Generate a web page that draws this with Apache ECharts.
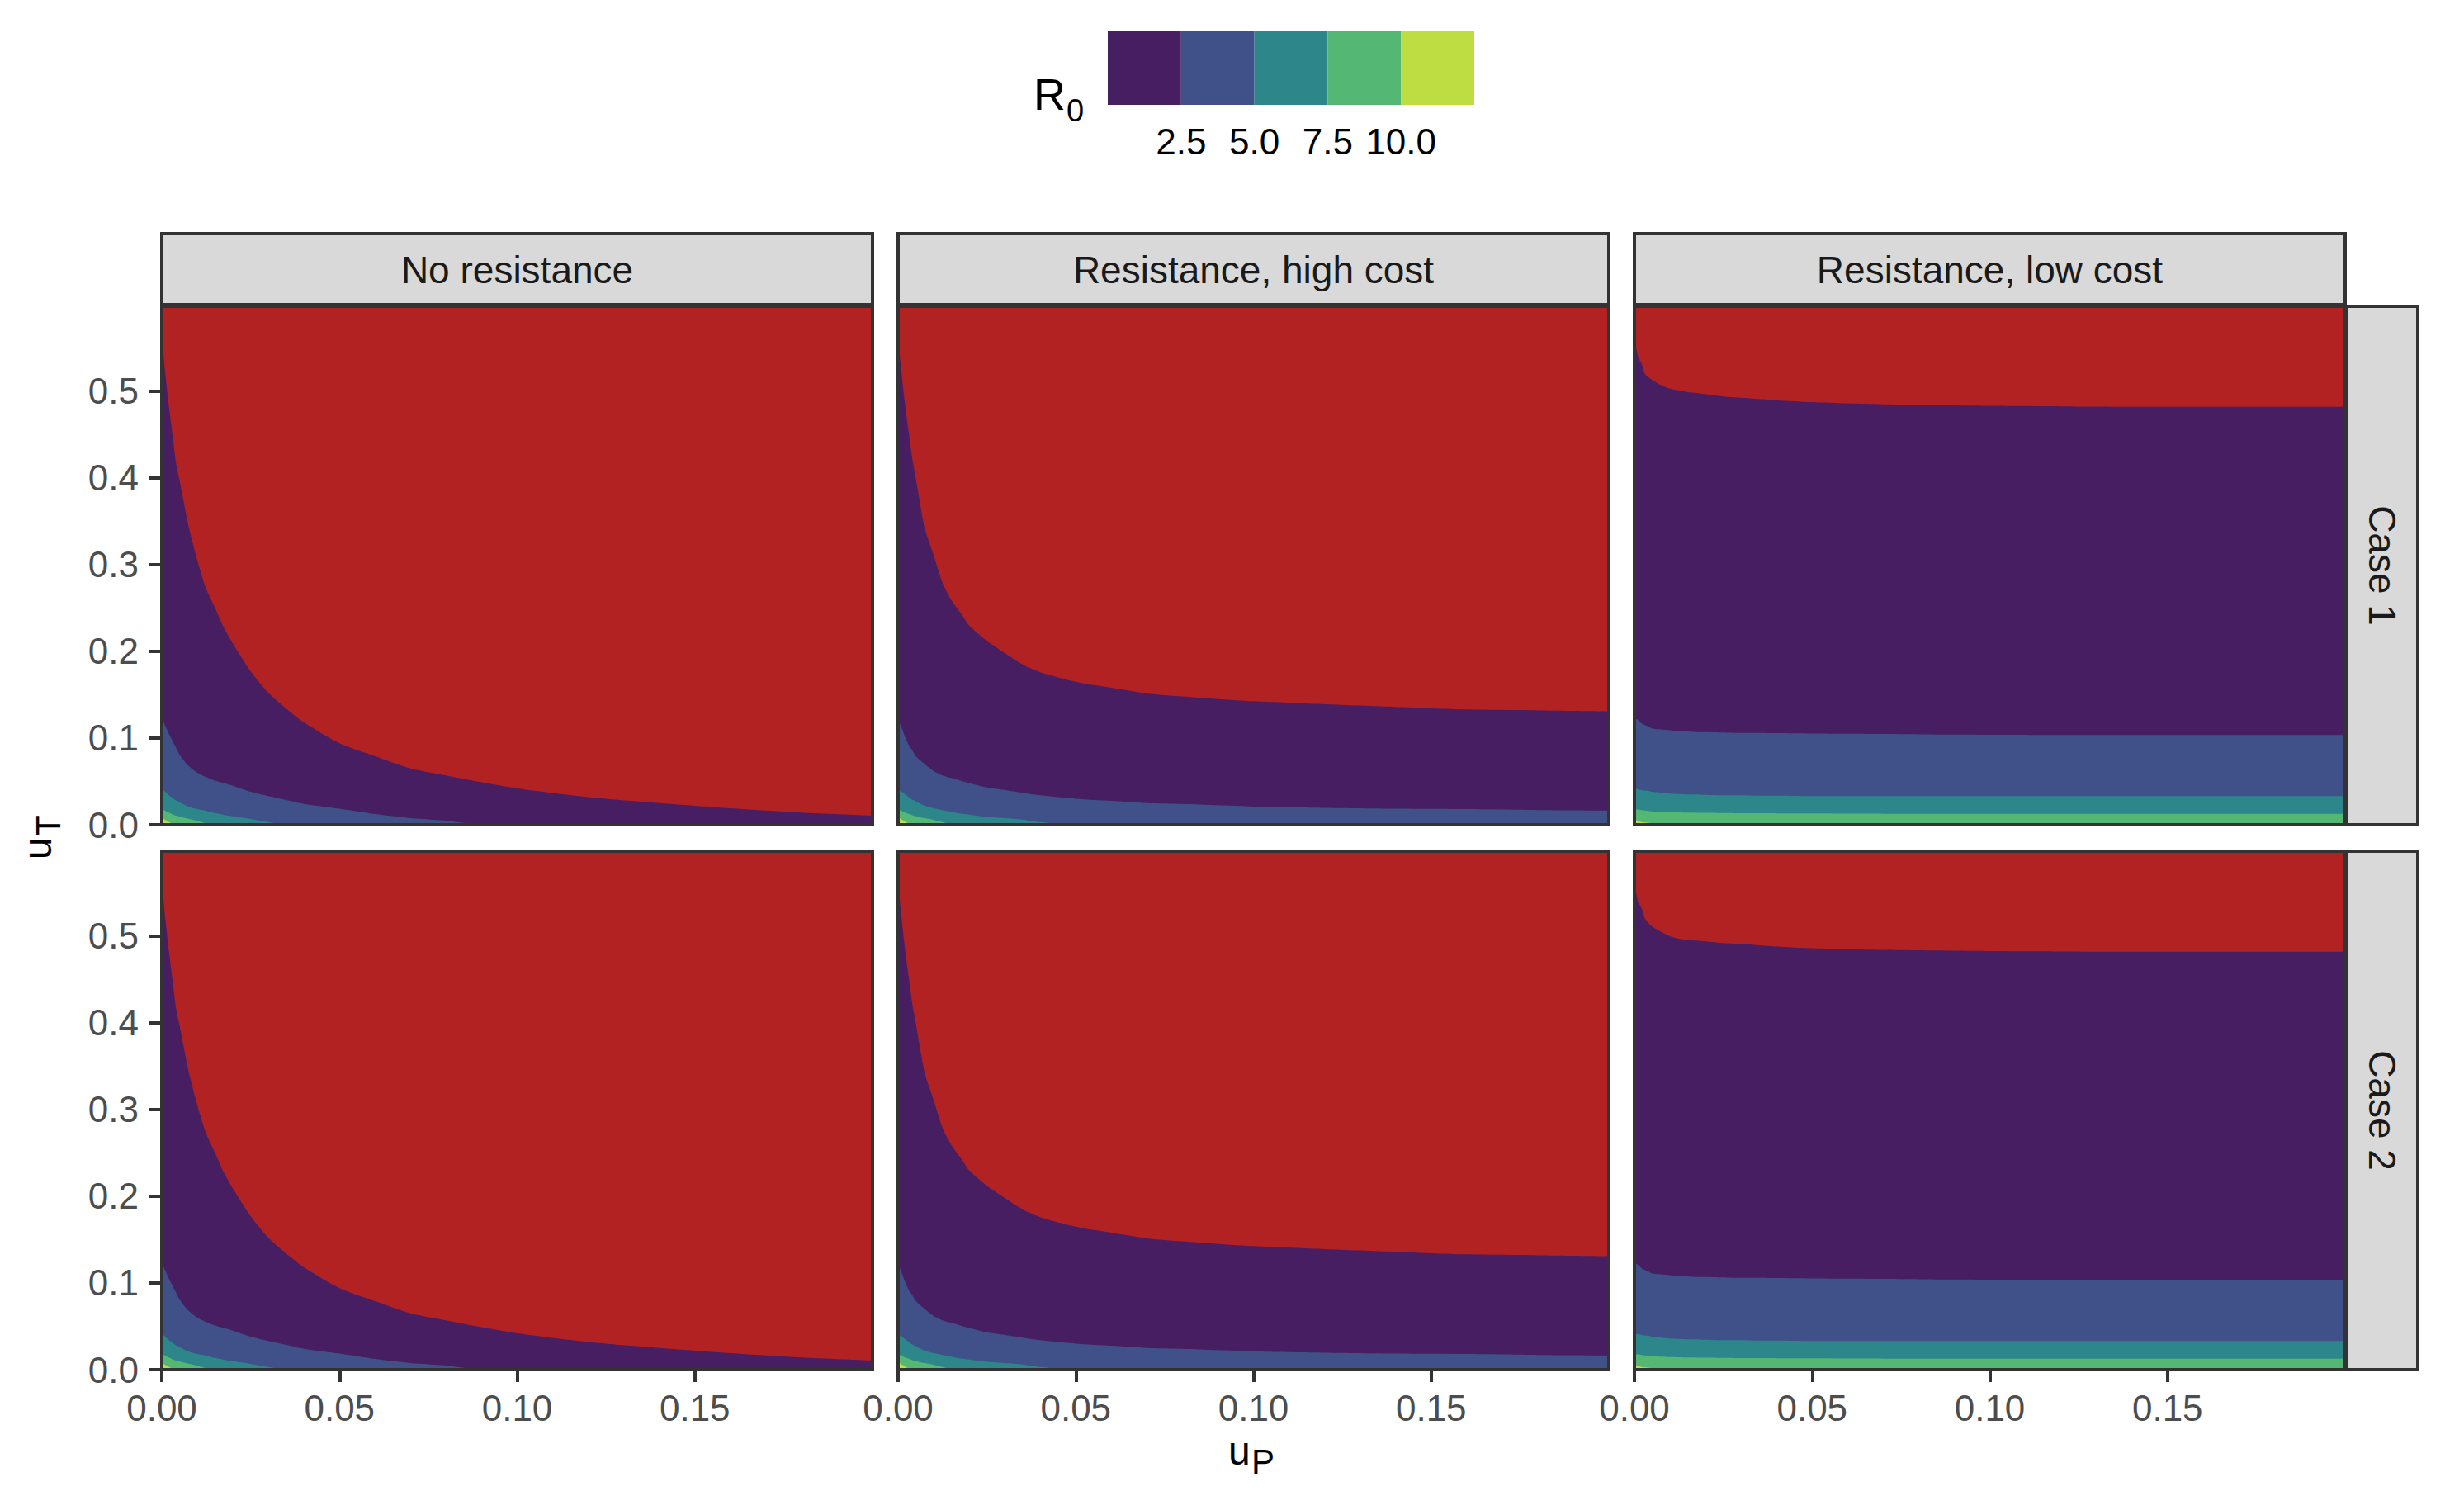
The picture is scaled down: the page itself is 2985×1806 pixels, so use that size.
<!DOCTYPE html>
<html><head><meta charset="utf-8">
<script src="https://cdn.jsdelivr.net/npm/echarts@6/dist/echarts.min.js"></script>
<style>html,body{margin:0;padding:0;background:#fff}#c{width:2985px;height:1806px}</style>
</head><body><div id="c"></div>
<script>
// ---------- data ----------
const facetCols = ['No resistance', 'Resistance, high cost', 'Resistance, low cost'];
const facetRows = ['Case 1', 'Case 2'];
const r0Breaks = [2.5, 5.0, 7.5, 10.0];
const xTicks = [0, 0.05, 0.10, 0.15];
const yTicks = [0, 0.1, 0.2, 0.3, 0.4, 0.5];
// u_P sample positions where the band boundaries were read
const uP = [0, 0.001, 0.002, 0.003, 0.004, 0.005, 0.0075, 0.01, 0.0125, 0.015, 0.0175, 0.02, 0.025, 0.03, 0.035, 0.04, 0.05, 0.06, 0.07, 0.08, 0.09, 0.10, 0.12, 0.14, 0.16, 0.18, 0.20];

// u_T value of the upper edge of each R0 band (R0 >= 1, 2.5, 5, 7.5, 10)
// Case 1, No resistance
const c1NoRes_R1   = [0.563,0.520,0.483,0.450,0.417,0.397,0.345,0.305,0.272,0.250,0.227,0.209,0.177,0.152,0.134,0.118,0.094,0.079,0.065,0.057,0.049,0.042,0.032,0.025,0.019,0.014,0.0105];
const c1NoRes_R2_5 = [0.123,0.114,0.105,0.097,0.089,0.081,0.068,0.060,0.055,0.051,0.048,0.045,0.038,0.033,0.0285,0.024,0.0185,0.0123,0.0077,0.0047,0,0,0,0,0,0,0];
const c1NoRes_R5   = [0.042,0.038,0.034,0.031,0.028,0.026,0.021,0.018,0.016,0.0135,0.0115,0.0097,0.0067,0.003,0,0,0,0,0,0,0,0,0,0,0,0,0];
const c1NoRes_R7_5 = [0.018,0.016,0.014,0.012,0.0105,0.0095,0.0068,0.0045,0.0015,0,0,0,0,0,0,0,0,0,0,0,0,0,0,0,0,0,0];
const c1NoRes_R10  = [0.0078,0.0055,0.003,0.001,0,0,0,0,0,0,0,0,0,0,0,0,0,0,0,0,0,0,0,0,0,0,0];
// Case 1, Resistance high cost
const c1High_R1   = [0.563,0.520,0.483,0.452,0.422,0.399,0.342,0.311,0.279,0.259,0.245,0.230,0.212,0.198,0.185,0.176,0.165,0.158,0.1515,0.148,0.145,0.1425,0.139,0.136,0.133,0.132,0.131];
const c1High_R2_5 = [0.122,0.112,0.101,0.092,0.086,0.079,0.070,0.062,0.057,0.054,0.051,0.048,0.043,0.040,0.037,0.034,0.030,0.0275,0.025,0.024,0.0225,0.021,0.0195,0.0185,0.018,0.017,0.0165];
const c1High_R5   = [0.042,0.038,0.035,0.032,0.029,0.027,0.022,0.019,0.017,0.015,0.0128,0.0117,0.009,0.0076,0.006,0.003,0,0,0,0,0,0,0,0,0,0,0];
const c1High_R7_5 = [0.018,0.016,0.014,0.0125,0.011,0.0098,0.0075,0.0055,0.003,0.0005,0,0,0,0,0,0,0,0,0,0,0,0,0,0,0,0,0];
const c1High_R10  = [0.0086,0.006,0.0035,0.001,0,0,0,0,0,0,0,0,0,0,0,0,0,0,0,0,0,0,0,0,0,0,0];
// Case 1, Resistance low cost
const c1Low_R1   = [0.563,0.540,0.532,0.520,0.516,0.513,0.507,0.503,0.501,0.499,0.498,0.4965,0.494,0.4925,0.491,0.4895,0.4875,0.486,0.485,0.4843,0.4837,0.4832,0.4826,0.482,0.482,0.482,0.482];
const c1Low_R2_5 = [0.123,0.121,0.117,0.115,0.113,0.111,0.110,0.109,0.108,0.1075,0.107,0.107,0.1065,0.106,0.106,0.1057,0.1053,0.105,0.1047,0.1043,0.104,0.1038,0.1036,0.1035,0.1035,0.1035,0.1035];
const c1Low_R5   = [0.042,0.041,0.040,0.0395,0.039,0.038,0.037,0.036,0.0355,0.035,0.035,0.0345,0.034,0.034,0.0335,0.0335,0.033,0.033,0.033,0.033,0.033,0.033,0.033,0.033,0.033,0.033,0.033];
const c1Low_R7_5 = [0.018,0.0175,0.017,0.0165,0.016,0.0155,0.015,0.0145,0.0143,0.014,0.0139,0.0138,0.0136,0.0134,0.0133,0.0132,0.013,0.0128,0.0127,0.0126,0.0125,0.0125,0.0125,0.0125,0.0125,0.0125,0.0125];
const c1Low_R10  = [0.0065,0.004,0.003,0.0025,0.0022,0.002,0.002,0.0018,0.0017,0.0016,0.0015,0.0015,0.0005,0,0,0,0,0,0,0,0,0,0,0,0,0,0];
// Case 2, No resistance
const c2NoRes_R1   = [0.563,0.520,0.483,0.450,0.417,0.397,0.345,0.305,0.272,0.250,0.227,0.209,0.177,0.152,0.134,0.118,0.094,0.079,0.065,0.057,0.049,0.042,0.032,0.025,0.019,0.014,0.0105];
const c2NoRes_R2_5 = [0.123,0.114,0.105,0.097,0.089,0.081,0.068,0.060,0.055,0.051,0.048,0.045,0.038,0.033,0.0285,0.024,0.0185,0.0123,0.0077,0.0047,0,0,0,0,0,0,0];
const c2NoRes_R5   = [0.042,0.038,0.034,0.031,0.028,0.026,0.021,0.018,0.016,0.0135,0.0115,0.0097,0.0067,0.003,0,0,0,0,0,0,0,0,0,0,0,0,0];
const c2NoRes_R7_5 = [0.018,0.016,0.014,0.012,0.0105,0.0095,0.0068,0.0045,0.0015,0,0,0,0,0,0,0,0,0,0,0,0,0,0,0,0,0,0];
const c2NoRes_R10  = [0.0078,0.0055,0.003,0.001,0,0,0,0,0,0,0,0,0,0,0,0,0,0,0,0,0,0,0,0,0,0,0];
// Case 2, Resistance high cost
const c2High_R1   = [0.563,0.520,0.483,0.452,0.422,0.399,0.342,0.311,0.279,0.259,0.245,0.230,0.212,0.198,0.185,0.176,0.165,0.158,0.1515,0.148,0.145,0.1425,0.139,0.136,0.133,0.132,0.131];
const c2High_R2_5 = [0.122,0.112,0.101,0.092,0.086,0.079,0.070,0.062,0.057,0.054,0.051,0.048,0.043,0.040,0.037,0.034,0.030,0.0275,0.025,0.024,0.0225,0.021,0.0195,0.0185,0.018,0.017,0.0165];
const c2High_R5   = [0.042,0.038,0.035,0.032,0.029,0.027,0.022,0.019,0.017,0.015,0.0128,0.0117,0.009,0.0076,0.006,0.003,0,0,0,0,0,0,0,0,0,0,0];
const c2High_R7_5 = [0.018,0.016,0.014,0.0125,0.011,0.0098,0.0075,0.0055,0.003,0.0005,0,0,0,0,0,0,0,0,0,0,0,0,0,0,0,0,0];
const c2High_R10  = [0.0086,0.006,0.0035,0.001,0,0,0,0,0,0,0,0,0,0,0,0,0,0,0,0,0,0,0,0,0,0,0];
// Case 2, Resistance low cost
const c2Low_R1   = [0.563,0.540,0.532,0.520,0.515,0.511,0.505,0.500,0.497,0.4955,0.495,0.494,0.492,0.491,0.4895,0.488,0.486,0.485,0.4843,0.4837,0.4832,0.4828,0.4824,0.482,0.482,0.482,0.482];
const c2Low_R2_5 = [0.123,0.121,0.117,0.115,0.113,0.111,0.110,0.109,0.108,0.1075,0.107,0.107,0.1065,0.106,0.106,0.1057,0.1053,0.105,0.1047,0.1043,0.104,0.1038,0.1036,0.1035,0.1035,0.1035,0.1035];
const c2Low_R5   = [0.042,0.041,0.040,0.0395,0.039,0.038,0.037,0.036,0.0355,0.035,0.035,0.0345,0.034,0.034,0.0335,0.0335,0.033,0.033,0.033,0.033,0.033,0.033,0.033,0.033,0.033,0.033,0.033];
const c2Low_R7_5 = [0.018,0.0175,0.017,0.0165,0.016,0.0155,0.015,0.0145,0.0143,0.014,0.0139,0.0138,0.0136,0.0134,0.0133,0.0132,0.013,0.0128,0.0127,0.0126,0.0125,0.0125,0.0125,0.0125,0.0125,0.0125,0.0125];
const c2Low_R10  = [0.0065,0.004,0.003,0.0025,0.0022,0.002,0.002,0.0018,0.0017,0.0016,0.0015,0.0015,0.0005,0,0,0,0,0,0,0,0,0,0,0,0,0,0];

// ---------- styling / layout ----------
const FONT = '"Liberation Sans", Arial, Helvetica, sans-serif';
const belowOneColor = '#B22222';
const bandColors = ['#471E61', '#3F5188', '#2D868A', '#54B874', '#BEDD42'];
const colLeft = [196, 1088, 1980], rowTop = [371, 1031];
const PW = 861, PH = 628;
const xMax = 0.2, yMax = 0.598;
const border = '#333333';

const panels = [
  [[c1NoRes_R1,c1NoRes_R2_5,c1NoRes_R5,c1NoRes_R7_5,c1NoRes_R10],
   [c1High_R1,c1High_R2_5,c1High_R5,c1High_R7_5,c1High_R10],
   [c1Low_R1,c1Low_R2_5,c1Low_R5,c1Low_R7_5,c1Low_R10]],
  [[c2NoRes_R1,c2NoRes_R2_5,c2NoRes_R5,c2NoRes_R7_5,c2NoRes_R10],
   [c2High_R1,c2High_R2_5,c2High_R5,c2High_R7_5,c2High_R10],
   [c2Low_R1,c2Low_R2_5,c2Low_R5,c2Low_R7_5,c2Low_R10]]
];

const grid = [], xAxis = [], yAxis = [], series = [], graphic = [];
for (let r = 0; r < 2; r++) {
  for (let c = 0; c < 3; c++) {
    const gi = grid.length;
    grid.push({left: colLeft[c], top: rowTop[r], width: PW, height: PH, show: true,
      backgroundColor: belowOneColor, borderWidth: 0, containLabel: false});
    xAxis.push({gridIndex: gi, type: 'value', min: 0, max: xMax,
      axisLine: {show: false}, splitLine: {show: false},
      axisTick: {show: r === 1, length: 15, customValues: xTicks, lineStyle: {color: border, width: 4}},
      axisLabel: {show: r === 1, customValues: xTicks, formatter: v => v.toFixed(2), margin: 24,
        fontSize: 44, fontFamily: FONT, color: '#4D4D4D'}});
    yAxis.push({gridIndex: gi, type: 'value', min: 0, max: yMax,
      axisLine: {show: false}, splitLine: {show: false},
      axisTick: {show: c === 0, length: 15, customValues: yTicks, lineStyle: {color: border, width: 4}},
      axisLabel: {show: c === 0, customValues: yTicks, formatter: v => v.toFixed(1), margin: 28,
        fontSize: 44, fontFamily: FONT, color: '#4D4D4D'}});
    panels[r][c].forEach((edge, k) => {
      series.push({type: 'line', xAxisIndex: gi, yAxisIndex: gi, silent: true,
        data: uP.map((x, i) => [x, edge[i]]), symbol: 'none', showSymbol: false,
        smooth: 0.25,
        lineStyle: {width: 0, opacity: 0}, areaStyle: {color: bandColors[k], opacity: 1},
        z: 2 + k, clip: true});
    });
    graphic.push({type: 'rect', z: 100, silent: true,
      shape: {x: colLeft[c], y: rowTop[r], width: PW, height: PH},
      style: {fill: 'none', stroke: border, lineWidth: 4}});
  }
}
// top strips
facetCols.forEach((t, c) => {
  graphic.push({type: 'rect', z: 100, silent: true,
    shape: {x: colLeft[c], y: 283, width: PW, height: 86},
    style: {fill: '#D9D9D9', stroke: border, lineWidth: 4}});
  graphic.push({type: 'text', z: 101, silent: true, x: colLeft[c] + PW / 2, y: 327,
    style: {text: t, fill: '#1A1A1A', font: '46px ' + FONT, align: 'center', verticalAlign: 'middle'}});
});
// right strips
facetRows.forEach((t, r) => {
  graphic.push({type: 'rect', z: 100, silent: true,
    shape: {x: colLeft[2] + PW + 2, y: rowTop[r], width: 86, height: PH},
    style: {fill: '#D9D9D9', stroke: border, lineWidth: 4}});
  graphic.push({type: 'text', z: 101, silent: true, x: colLeft[2] + PW + 45, y: rowTop[r] + PH / 2,
    rotation: -Math.PI / 2,
    style: {text: t, fill: '#1A1A1A', font: '46px ' + FONT, align: 'center', verticalAlign: 'middle'}});
});
// axis titles (main letter + lowered subscript)
function mathText(x, y, txt, size, rot) {
  const el = {type: 'text', z: 101, silent: true, x: x, y: y,
    style: {text: txt, fill: '#000', font: size + 'px ' + FONT, align: 'left', verticalAlign: 'middle'}};
  if (rot) el.rotation = rot;
  return el;
}
graphic.push(mathText(1488, 1757, 'u', 48));
graphic.push(mathText(1516, 1770, 'P', 42));
graphic.push(mathText(45, 1041, 'u', 48, Math.PI / 2));
graphic.push(mathText(58, 1013, 'T', 42, Math.PI / 2));
// legend title
graphic.push(mathText(1252, 114, 'R', 54));
graphic.push(mathText(1292, 134, '0', 38));

// legend colour steps (drawn through its own axis)
const legStep = r0Breaks[1] - r0Breaks[0];
const legEdges = [r0Breaks[0] - legStep].concat(r0Breaks, [r0Breaks[r0Breaks.length - 1] + legStep]);
const lg = grid.length;
grid.push({left: 1342, top: 37, width: 444, height: 90, show: false, containLabel: false});
xAxis.push({gridIndex: lg, type: 'value', min: legEdges[0], max: legEdges[legEdges.length - 1],
  axisLine: {show: false}, axisTick: {show: false}, splitLine: {show: false},
  axisLabel: {customValues: r0Breaks, formatter: v => v.toFixed(1), margin: 22,
    fontSize: 44, fontFamily: FONT, color: '#000'}});
yAxis.push({gridIndex: lg, type: 'value', min: 0, max: 1, show: false});
bandColors.forEach((col, k) => {
  series.push({type: 'line', xAxisIndex: lg, yAxisIndex: lg, silent: true,
    data: [[legEdges[k], 1], [legEdges[k + 1], 1]], symbol: 'none',
    lineStyle: {width: 0, opacity: 0}, areaStyle: {color: col, opacity: 1}});
});

const chart = echarts.init(document.getElementById('c'), null, {renderer: 'svg', width: 2985, height: 1806});
chart.setOption({animation: false, backgroundColor: '#fff', grid, xAxis, yAxis, series, graphic});
</script></body></html>
